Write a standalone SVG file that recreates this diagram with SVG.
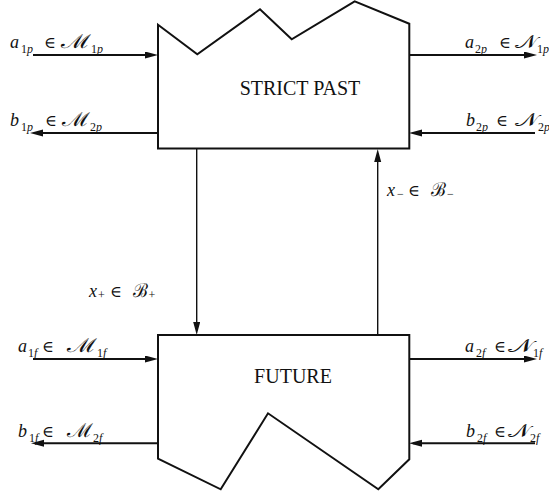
<svg xmlns="http://www.w3.org/2000/svg" width="549" height="497" viewBox="0 0 549 497">
  <style>
    .box { fill: #fff; stroke: #111; stroke-width: 2; stroke-linejoin: miter; }
    .io { fill: none; stroke: #111; stroke-width: 2; }
    .link { fill: none; stroke: #111; stroke-width: 1.4; }
    .title { font-family: "Liberation Serif", "Times New Roman", serif; font-size: 20px; fill: #111; text-anchor: middle; }
    .lbl { font-family: "Liberation Serif", "DejaVu Serif", serif; font-size: 18px; fill: #111; }
    .it { font-style: italic; }
    .el { font-size: 16px; }
    .cal { font-family: "DejaVu Serif", "Liberation Serif", serif; font-style: normal; font-size: 19px; }
    .sub { font-size: 12px; }
  </style>
  <defs>
    <marker id="head" markerUnits="userSpaceOnUse" markerWidth="14" markerHeight="8" refX="9" refY="3.5" orient="auto">
      <path d="M0,0 L13,3.5 L0,7 z" fill="#111"/>
    </marker>
  </defs>

  <!-- strict past block with ragged upper boundary -->
  <g id="strict-past">
    <polygon class="box" points="158,24.7 197.3,54.3 260,9.3 291.7,39.3 354.7,1.3 409.3,23.7 409.3,148.5 158,148.5"/>
    <text class="title" x="300" y="95">STRICT PAST</text>
  </g>

  <!-- future block with ragged lower boundary -->
  <g id="future">
    <polygon class="box" points="158,335 409.3,335 409.3,459.3 378.3,489.3 268,413.3 220.7,489.3 158,458.7"/>
    <text class="title" x="293" y="383">FUTURE</text>
  </g>

  <!-- signals -->
  <g id="connectors">
    <line class="io" x1="33" y1="55" x2="154" y2="55" marker-end="url(#head)"/>
    <line class="io" x1="158" y1="133" x2="34" y2="133" marker-end="url(#head)"/>
    <line class="io" x1="409" y1="55" x2="533" y2="55" marker-end="url(#head)"/>
    <line class="io" x1="535" y1="133" x2="413" y2="133" marker-end="url(#head)"/>

    <line class="link" x1="196.7" y1="149" x2="196.7" y2="331" marker-end="url(#head)"/>
    <line class="link" x1="377.7" y1="335" x2="377.7" y2="153" marker-end="url(#head)"/>

    <line class="io" x1="33" y1="359" x2="154" y2="359" marker-end="url(#head)"/>
    <line class="io" x1="158" y1="443.3" x2="35" y2="443.3" marker-end="url(#head)"/>
    <line class="io" x1="409" y1="359" x2="533" y2="359" marker-end="url(#head)"/>
    <line class="io" x1="535" y1="443.3" x2="413" y2="443.3" marker-end="url(#head)"/>
  </g>

  <!-- labels: symbol, index, membership, space, index -->
  <g id="labels">
    <text class="lbl"><tspan class="it" x="10" y="48">a</tspan><tspan class="sub" x="21" y="53">1<tspan class="it">p</tspan></tspan><tspan class="el" x="44" y="48">∈</tspan><tspan class="cal" x="61" y="48" textLength="30" lengthAdjust="spacingAndGlyphs">ℳ</tspan><tspan class="sub" x="91" y="53">1<tspan class="it">p</tspan></tspan></text>
    <text class="lbl"><tspan class="it" x="10" y="126">b</tspan><tspan class="sub" x="21" y="131">1<tspan class="it">p</tspan></tspan><tspan class="el" x="45" y="126">∈</tspan><tspan class="cal" x="62" y="126" textLength="28" lengthAdjust="spacingAndGlyphs">ℳ</tspan><tspan class="sub" x="90" y="131">2<tspan class="it">p</tspan></tspan></text>
    <text class="lbl"><tspan class="it" x="465" y="48">a</tspan><tspan class="sub" x="475" y="53">2<tspan class="it">p</tspan></tspan><tspan class="el" x="499" y="48">∈</tspan><tspan class="cal" x="515" y="48" textLength="22" lengthAdjust="spacingAndGlyphs">𝒩</tspan><tspan class="sub" x="537" y="53">1<tspan class="it">p</tspan></tspan></text>
    <text class="lbl"><tspan class="it" x="466" y="126">b</tspan><tspan class="sub" x="476" y="131">2<tspan class="it">p</tspan></tspan><tspan class="el" x="496" y="126">∈</tspan><tspan class="cal" x="515" y="126" textLength="23" lengthAdjust="spacingAndGlyphs">𝒩</tspan><tspan class="sub" x="538" y="131">2<tspan class="it">p</tspan></tspan></text>

    <text class="lbl"><tspan class="it" x="387" y="196">x</tspan><tspan class="sub" x="397" y="198">−</tspan><tspan class="el" x="408" y="196">∈</tspan><tspan class="cal" x="431" y="196" textLength="15" lengthAdjust="spacingAndGlyphs">ℬ</tspan><tspan class="sub" x="447" y="198">−</tspan></text>
    <text class="lbl"><tspan class="it" x="89" y="297">x</tspan><tspan class="sub" x="98" y="299">+</tspan><tspan class="el" x="110" y="297">∈</tspan><tspan class="cal" x="133" y="297" textLength="15" lengthAdjust="spacingAndGlyphs">ℬ</tspan><tspan class="sub" x="148.5" y="299">+</tspan></text>

    <text class="lbl"><tspan class="it" x="18" y="352">a</tspan><tspan class="sub" x="28" y="357">1<tspan class="it">f</tspan></tspan><tspan class="el" x="42" y="352">∈</tspan><tspan class="cal" x="67" y="352" textLength="30" lengthAdjust="spacingAndGlyphs">ℳ</tspan><tspan class="sub" x="97" y="357">1<tspan class="it">f</tspan></tspan></text>
    <text class="lbl"><tspan class="it" x="18" y="437">b</tspan><tspan class="sub" x="29" y="442">1<tspan class="it">f</tspan></tspan><tspan class="el" x="42" y="437">∈</tspan><tspan class="cal" x="67" y="437" textLength="26" lengthAdjust="spacingAndGlyphs">ℳ</tspan><tspan class="sub" x="93" y="442">2<tspan class="it">f</tspan></tspan></text>
    <text class="lbl"><tspan class="it" x="465" y="352">a</tspan><tspan class="sub" x="476" y="357">2<tspan class="it">f</tspan></tspan><tspan class="el" x="494" y="352">∈</tspan><tspan class="cal" x="508" y="352" textLength="25" lengthAdjust="spacingAndGlyphs">𝒩</tspan><tspan class="sub" x="533" y="357">1<tspan class="it">f</tspan></tspan></text>
    <text class="lbl"><tspan class="it" x="466" y="437">b</tspan><tspan class="sub" x="477" y="442">2<tspan class="it">f</tspan></tspan><tspan class="el" x="494" y="437">∈</tspan><tspan class="cal" x="508" y="437" textLength="22" lengthAdjust="spacingAndGlyphs">𝒩</tspan><tspan class="sub" x="530" y="442">2<tspan class="it">f</tspan></tspan></text>
  </g>
</svg>
